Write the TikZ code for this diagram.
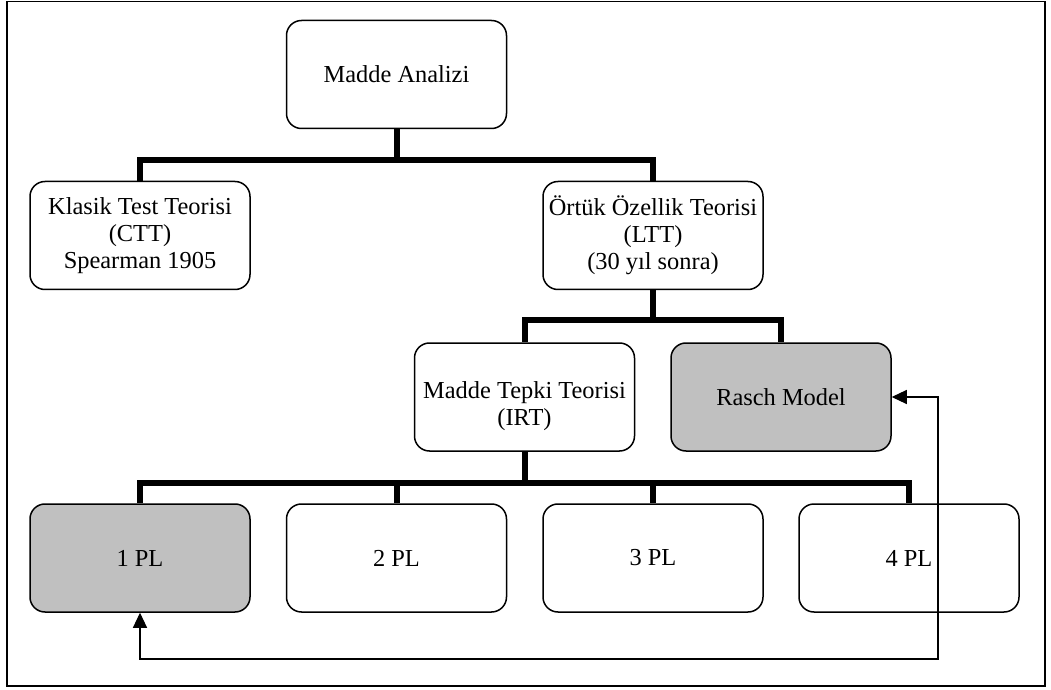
\documentclass[tikz,border=0pt]{standalone}
\usepackage{fontspec}
\setmainfont{Liberation Serif}
\usetikzlibrary{arrows.meta}

\definecolor{boxgray}{HTML}{C0C0C0}

\begin{document}
\begin{tikzpicture}[x=0.5pt,y=-0.5pt,
    box/.style={draw, line width=0.75pt, rounded corners=7.5pt, fill=white,
        minimum width=110pt, minimum height=54pt, inner sep=0pt, align=center,
        font=\fontsize{12.2}{13.5}\selectfont},
    shaded/.style={box, fill=boxgray},
    bus/.style={line width=3pt},
    back/.style={line width=0.55pt, {Triangle[length=7.5pt,width=7pt]}-{Triangle[length=7.5pt,width=7pt]}}]
    \useasboundingbox (0,0) rectangle (1051,690);
    % Frame
    \draw[line width=0.6pt] (7,1.5) rectangle (1045,686);

    % Boxes
    \node[box] (analiz) at (396.5,74.5) {Madde Analizi};
    \node[box] (klasik) at (140,235.5) {Klasik Test Teorisi\\(CTT)\\Spearman 1905};
    \node[box] (ortuk) at (653,235.5) {Örtük Özellik Teorisi\\(LTT)\\(30 yıl sonra)};
    \node[box] (tepki) at (524.5,397) {\rule{0pt}{17.5pt}Madde Tepki Teorisi\\(IRT)};
    \node[shaded] (rasch) at (781,397) {Rasch Model};
    \node[shaded] (pl1) at (140,558) {1 PL};
    \node[box] (pl2) at (396.5,558) {2 PL};
    \node[box] (pl3) at (653,558) {3 PL};
    \node[box] (pl4) at (909,558) {4 PL};

    % Tree lines
    \draw[bus] (analiz.south) -- ++(0,31) -| (klasik.north);
    \draw[bus] (analiz.south) -- ++(0,31) -| (ortuk.north);
    \draw[bus] (ortuk.south) -- ++(0,30) -| (tepki.north);
    \draw[bus] (ortuk.south) -- ++(0,30) -| (rasch.north);
    \foreach \p in {pl1,pl2,pl3,pl4}
        \draw[bus] (tepki.south) -- ++(0,31) -| (\p.north);

    % Link between 1 PL and Rasch
    \coordinate (turn) at (938,659);
    \draw[back] (rasch.east) -| (turn) -| (pl1.south);
\end{tikzpicture}
\end{document}
